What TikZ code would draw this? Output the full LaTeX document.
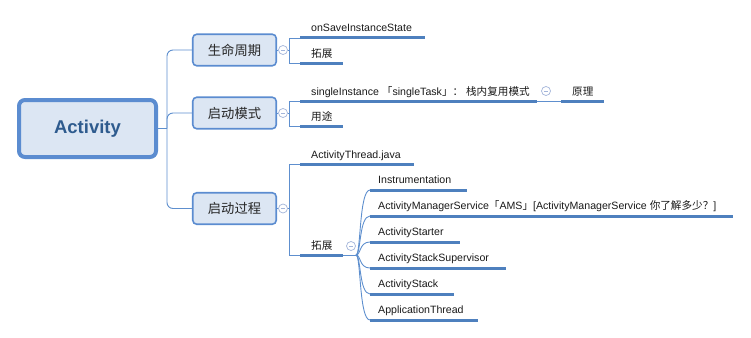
\documentclass[tikz,border=0pt]{standalone}
\usepackage{fontspec}
\setmainfont{Liberation Sans}
\newfontfamily\cjk{Noto Sans CJK SC}
\newfontfamily\rootfont{Liberation Sans}
\definecolor{thinline}{HTML}{5E8FCE}
\definecolor{thickline}{HTML}{4E80BE}
\definecolor{boxfill}{HTML}{DCE6F3}
\definecolor{boxborder}{HTML}{5B8CD0}
\definecolor{roottext}{HTML}{2E5B8E}
\definecolor{circline}{HTML}{A3B5DA}
\tikzset{
  rootbox/.style={draw=boxborder, line width=4pt, fill=boxfill, rounded corners=6pt,
    minimum width=137pt, minimum height=57pt, inner sep=0pt,
    font=\rootfont\fontsize{18.5}{20}\selectfont\bfseries, text=roottext},
  branchbox/.style={draw=boxborder, line width=1.6pt, fill=boxfill, rounded corners=4pt,
    minimum width=83.5pt, minimum height=31.5pt, inner sep=0pt,
    font=\cjk\fontsize{13.3}{15}\selectfont, text=black!85},
  leaf/.style={anchor=base west, inner sep=0pt, font=\fontsize{10.6}{12}\selectfont, text=black!90},
  thin/.style={draw=thinline, line width=0.9pt},
  thick/.style={draw=thickline, line width=3pt},
  collapse/.style={circle, draw=circline, fill=white, line width=0.7pt, minimum size=9pt, inner sep=0pt,
    path picture={\draw[circline, line width=0.7pt] ([xshift=-2.2pt]path picture bounding box.center) -- ([xshift=2.2pt]path picture bounding box.center);}},
}
\begin{document}
\begin{tikzpicture}[x=1pt,y=-1pt]
\useasboundingbox (0,0) rectangle (751,337);

% root and branches
\node[rootbox] (root) at (87.5,128.5) {\raisebox{-1pt}{Activity}};
\node[branchbox] (b1) at (234.5,50) {生命周期};
\node[branchbox] (b2) at (234.5,113) {启动模式};
\node[branchbox] (b3) at (234.5,208.5) {启动过程};

\coordinate (hub) at (167,128.5);
\draw[thin] (root.east) -- (hub);
\draw[thin, rounded corners=6pt] (hub) |- (b1.west);
\draw[thin, rounded corners=6pt] (hub) |- (b2.west);
\draw[thin, rounded corners=6pt] (hub) |- (b3.west);

% collapse circles on branches
\node[collapse] (k1) at (283,50) {};
\node[collapse] (k2) at (283,113) {};
\node[collapse] (k3) at (283,208.5) {};
\draw[thin] (b1.east) -- (k1.west);
\draw[thin] (b2.east) -- (k2.west);
\draw[thin] (b3.east) -- (k3.west);

% ---- branch 1 children
\coordinate (a1s) at (300,38);  \coordinate (a1e) at (425,38);
\coordinate (a2s) at (300,63);  \coordinate (a2e) at (343,63);
\coordinate (v1) at (289,50);
\draw[thin] (k1.east) -- (v1);
\draw[thin] (v1) |- (a1s);
\draw[thin] (v1) |- (a2s);
\draw[thick] (a1s) -- (a1e);
\draw[thick] (a2s) -- (a2e);
\node[leaf] (t11) at (311,32) {onSaveInstanceState};
\node[leaf] (t12) at (311,57) {\cjk 拓展};

% ---- branch 2 children
\coordinate (c1s) at (300,101);  \coordinate (c1e) at (537,101);
\coordinate (c2s) at (300,126);  \coordinate (c2e) at (343,126);
\coordinate (v2) at (289,113);
\draw[thin] (k2.east) -- (v2);
\draw[thin] (v2) |- (c1s);
\draw[thin] (v2) |- (c2s);
\draw[thick] (c1s) -- (c1e);
\draw[thick] (c2s) -- (c2e);
\node[leaf] (t21) at (311,95) {singleInstance {\cjk 「}singleTask{\cjk 」：} {\cjk 栈内复用模式}};
\node[leaf] (t22) at (311,120) {\cjk 用途};
\coordinate (d1s) at (561,101);  \coordinate (d1e) at (604,101);
\draw[thin] (c1e) -- (d1s);
\draw[thick] (d1s) -- (d1e);
\node[collapse] (k4) at (546,91) {};
\node[leaf] (t23) at (572,95) {\cjk 原理};

% ---- branch 3 children
\coordinate (e1s) at (300,164);  \coordinate (e1e) at (414,164);
\coordinate (e2s) at (300,255);  \coordinate (e2e) at (343,255);
\coordinate (v3) at (289,208.5);
\draw[thin] (k3.east) -- (v3);
\draw[thin] (v3) |- (e1s);
\draw[thin] (v3) |- (e2s);
\draw[thick] (e1s) -- (e1e);
\draw[thick] (e2s) -- (e2e);
\node[leaf] (t31) at (311,158) {ActivityThread.java};
\node[leaf] (t32) at (311,249) {\cjk 拓展};
\node[collapse] (k5) at (351,246) {};
\coordinate (fan) at (356,255);
\draw[thin] (e2e) -- (fan);

% ---- fan children
\foreach \n/\yy/\xe/\txt in {
  1/190/467/{Instrumentation},
  2/216/733/{ActivityManagerService{\cjk 「}AMS{\cjk 」}[ActivityManagerService {\cjk 你了解多少？}]},
  3/242/460/{ActivityStarter},
  4/268/506/{ActivityStackSupervisor},
  5/294/454/{ActivityStack},
  6/320/478/{ApplicationThread}} {
  \coordinate (f\n s) at (370,\yy);
  \coordinate (f\n e) at (\xe,\yy);
  \draw[thin] (fan) .. controls (361,255) and (359,\yy) .. (f\n s);
  \draw[thick] (f\n s) -- (f\n e);
  \node[leaf] (g\n) at (378,\yy-6.5) {\txt};
}
\end{tikzpicture}
\end{document}
